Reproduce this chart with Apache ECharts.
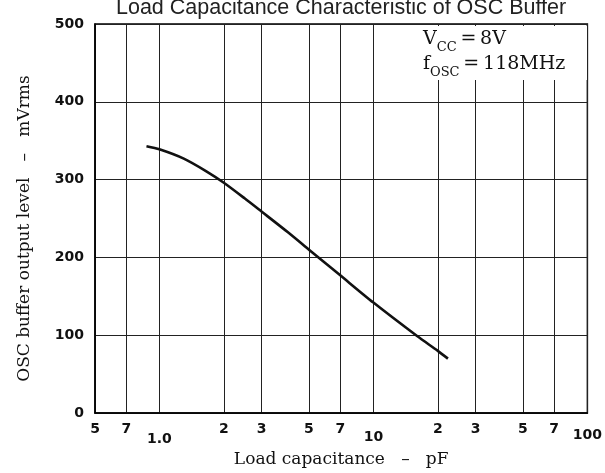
<!DOCTYPE html>
<html>
<head>
<meta charset="utf-8">
<script src="https://cdn.jsdelivr.net/npm/echarts@6/dist/echarts.min.js"></script>
<style>
html,body{margin:0;padding:0;background:#fff;}
#chart{width:605px;height:473px;}
</style>
</head>
<body>
<div id="chart"></div>
<script>
// Data
var loadCapacitance = [0.87, 1.0, 1.3, 1.65, 2, 2.5, 3, 4, 5, 7, 10, 16, 20, 22.3];
var outputLevel     = [343, 339, 327, 311, 296, 276, 259, 232, 210, 177, 142, 99, 80, 70];
var xTickValues = [0.5, 0.7, 1, 2, 3, 5, 7, 10, 20, 30, 50, 70, 100];
var xTickLabels = ['5', '7', '1.0', '2', '3', '5', '7', '10', '2', '3', '5', '7', '100'];
var xTickLevel  = ['a', 'a', 'c', 'a', 'a', 'a', 'a', 'b', 'a', 'a', 'a', 'a', 'd'];
var yMin = 0, yMax = 500, yStep = 100;
var titleText = 'Load Capacitance Characteristic of OSC Buffer';
var xName = 'Load capacitance   \u2013   pF';
var yName = 'OSC buffer output level   \u2013   mVrms';

var seriesData = loadCapacitance.map(function (x, i) { return [x, outputLevel[i]]; });

var chart = echarts.init(document.getElementById('chart'), null, {renderer: 'canvas'});
var tickFont = {fontFamily: 'DejaVu Sans', fontWeight: 'bold', fontSize: 14, color: '#111'};
var serif = 'DejaVu Serif';
function lvl(pad) {
  return {fontFamily: 'DejaVu Sans', fontWeight: 'bold', fontSize: 14, color: '#111', padding: [pad, 0, 0, 0]};
}

chart.setOption({
  backgroundColor: '#fff',
  animation: false,
  title: {
    text: titleText,
    left: 111,
    top: -8,
    textStyle: {fontFamily: 'Liberation Sans', fontWeight: 'normal', fontSize: 21.5, color: '#222'}
  },
  grid: {left: 95, right: 15, top: 24, bottom: 49, show: true, borderColor: '#000', borderWidth: 1.5, backgroundColor: 'transparent'},
  xAxis: {
    type: 'log', logBase: 10, min: 0.5, max: 100,
    name: xName, nameLocation: 'middle', nameGap: 29,
    nameTextStyle: {fontFamily: serif, fontSize: 17, color: '#111'},
    axisLine: {show: true, lineStyle: {color: '#000', width: 1.5}},
    axisTick: {show: false, customValues: xTickValues},
    axisLabel: {
      customValues: xTickValues, margin: 9,
      formatter: function (v, i) {
        var k = xTickValues.indexOf(v);
        if (k < 0) k = i;
        return '{' + xTickLevel[k] + '|' + xTickLabels[k] + '}';
      },
      rich: {a: lvl(0), b: lvl(8), c: lvl(10), d: lvl(6)}
    },
    splitLine: {show: true, lineStyle: {color: '#222', width: 1}}
  },
  yAxis: {
    type: 'value', min: yMin, max: yMax, interval: yStep,
    name: yName, nameLocation: 'middle', nameGap: 62,
    nameTextStyle: {fontFamily: serif, fontSize: 17, color: '#111', padding: [0, 20, 0, 0]},
    axisLine: {show: true, lineStyle: {color: '#000', width: 1.5}},
    axisTick: {show: false},
    axisLabel: Object.assign({margin: 11}, tickFont),
    splitLine: {show: true, lineStyle: {color: '#222', width: 1}}
  },
  graphic: [
    {type: 'rect', z: 50, shape: {x: 402, y: 26, width: 185, height: 54}, style: {fill: '#fff'}},
    {type: 'text', z: 51, left: 423, top: 30, style: {
      rich: {
        v: {fontFamily: serif, fontSize: 19, fill: '#111', verticalAlign: 'bottom', padding: [0, 0, 5, 0]},
        s: {fontFamily: serif, fontSize: 13, fill: '#111', verticalAlign: 'bottom'}
      },
      text: '{v|V}{s|CC}{v|\u2009=\u20098V}'
    }},
    {type: 'text', z: 51, left: 423, top: 55, style: {
      rich: {
        v: {fontFamily: serif, fontSize: 19, fill: '#111', verticalAlign: 'bottom', padding: [0, 0, 5, 0]},
        s: {fontFamily: serif, fontSize: 13, fill: '#111', verticalAlign: 'bottom'}
      },
      text: '{v|f}{s|OSC}{v|\u2009=\u2009118MHz}'
    }}
  ],
  series: [{
    type: 'line',
    data: seriesData,
    smooth: 0.25,
    symbol: 'none',
    lineStyle: {color: '#111', width: 2.6},
    z: 10
  }]
});
</script>
</body>
</html>
